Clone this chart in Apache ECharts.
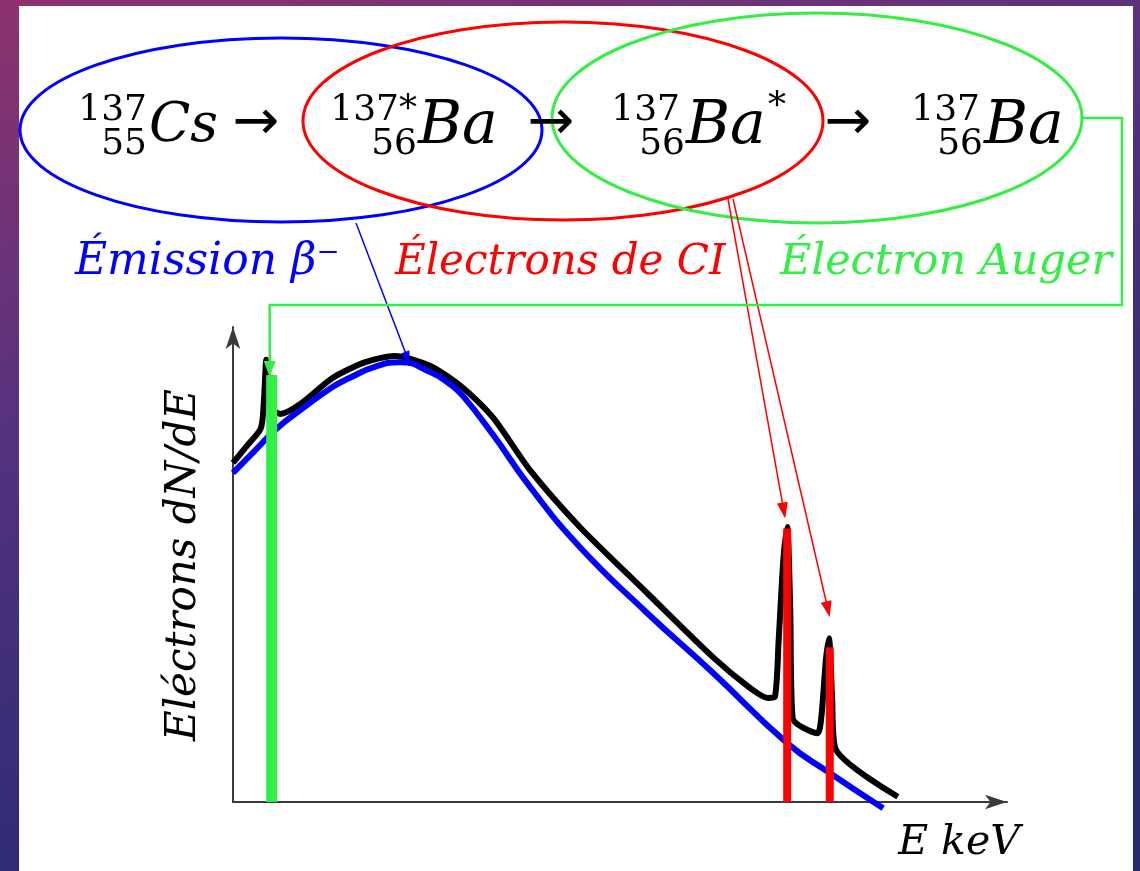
<!DOCTYPE html>
<html><head><meta charset="utf-8">
<script src="https://cdn.jsdelivr.net/npm/echarts@6/dist/echarts.min.js"></script>
<style>html,body{margin:0;padding:0;background:#fff;} #c{width:1140px;height:871px;}</style>
</head><body><div id="c"></div>
<script>
// ---- Data (arbitrary energy units 0..100, intensity units 0..100) ----
const betaE = [0, 2.8, 5.7, 8.7, 12.9, 15.1, 18.3, 21.6, 25.5, 28.0, 29.7, 33.6, 38.4, 44.8, 53.5, 62.0, 71.6, 77.1, 84.0];
const betaN = [69.3, 73.9, 78.7, 82.5, 87.4, 89.3, 91.6, 92.6, 90.5, 88.0, 85.5, 77.3, 66.3, 53.7, 39.8, 27.2, 12.4, 6.1, -1.3];

const totalE = [0, 1.9, 3.6, 4.0, 4.3, 4.6, 5.1, 6.1, 8.7, 12.9, 17.1, 20.9, 25.5, 29.7, 33.6, 38.4, 44.8, 53.5, 62.0, 66.8, 69.1, 70.0, 70.5, 71.1, 71.6, 72.0, 72.3, 75.5, 76.0, 76.6, 77.0, 77.4, 77.8, 85.9];
const totalN = [71.4, 75.2, 78.7, 84.6, 93.1, 86.0, 82.6, 81.7, 83.8, 89.3, 92.6, 93.9, 91.8, 87.2, 80.9, 69.8, 57.9, 44.0, 30.5, 24.0, 21.9, 22.1, 34.1, 50.9, 57.9, 40.0, 17.7, 14.5, 17.7, 29.9, 34.5, 22.0, 11.4, 1.1];

const augerE = 5.0,  augerN = 89.9;
const ciE = [71.6, 77.1];
const ciN = [57.6, 32.6];

const xLabel = 'E keV';
const yLabel = 'Eléctrons dN/dE';

const zip = (a, b) => a.map((v, i) => [v, b[i]]);

const chart = echarts.init(document.getElementById('c'), null, {renderer: 'canvas'});

const serif = '"DejaVu Serif", "Liberation Serif", serif';

function txt(text, x, y, size, color, opts) {
  opts = opts || {};
  return {
    type: 'text', x: x, y: y, rotation: opts.rotation || 0, z: 50,
    style: {
      text: text, fill: color || '#000',
      font: (opts.italic === false ? '' : 'italic ') + size + 'px ' + (opts.family || serif),
      align: opts.align || 'left', verticalAlign: 'middle'
    }
  };
}

function arrow(from, tip, color, width, len, w) {
  const dx = tip[0] - from[0], dy = tip[1] - from[1];
  const L = Math.hypot(dx, dy), ux = dx / L, uy = dy / L;
  const bx = tip[0] - ux * len, by = tip[1] - uy * len;
  return [
    {type: 'line', z: 40, shape: {x1: from[0], y1: from[1], x2: bx + ux * 2, y2: by + uy * 2},
      style: {stroke: color, lineWidth: width}},
    {type: 'polygon', z: 40, shape: {points: [tip, [bx - uy * w / 2, by + ux * w / 2], [bx + uy * w / 2, by - ux * w / 2]]},
      style: {fill: color}}
  ];
}

const option = {
  animation: false,
  grid: {left: 233, right: 133, top: 327, bottom: 69},
  xAxis: {
    type: 'value', min: 0, max: 100,
    axisLine: {show: true, symbol: ['none', 'arrow'], symbolSize: [11, 22], lineStyle: {color: '#3a3a3a', width: 2}},
    axisTick: {show: false}, axisLabel: {show: false}, splitLine: {show: false}
  },
  yAxis: {
    type: 'value', min: 0, max: 100,
    axisLine: {show: true, onZero: false, symbol: ['none', 'arrow'], symbolSize: [11, 22], lineStyle: {color: '#3a3a3a', width: 2}},
    axisTick: {show: false}, axisLabel: {show: false}, splitLine: {show: false}
  },
  series: [
    {type: 'line', name: 'total', data: zip(totalE, totalN), smooth: 0.25, showSymbol: false, symbol: 'none', clip: false, z: 3,
      lineStyle: {color: '#000', width: 6, join: 'round'}},
    {type: 'line', name: 'beta', data: zip(betaE, betaN), smooth: 0.5, showSymbol: false, symbol: 'none', clip: false, z: 4,
      lineStyle: {color: '#0000ff', width: 6}},
    {type: 'line', name: 'auger', data: [[augerE, 0], [augerE, augerN]], showSymbol: false, symbol: 'none', z: 5,
      lineStyle: {color: '#33ee44', width: 11, cap: 'butt'}},
    {type: 'line', name: 'ci1', data: [[ciE[0], 0], [ciE[0], ciN[0]]], showSymbol: false, symbol: 'none', z: 5,
      lineStyle: {color: '#ff0000', width: 8, cap: 'butt'}},
    {type: 'line', name: 'ci2', data: [[ciE[1], 0], [ciE[1], ciN[1]]], showSymbol: false, symbol: 'none', z: 5,
      lineStyle: {color: '#ff0000', width: 8, cap: 'butt'}}
  ]
};
chart.setOption(option);

const P = (x, y) => chart.convertToPixel({gridIndex: 0}, [x, y]);

const g = [];
// background
g.push({type: 'rect', z: -20, shape: {x: 0, y: 0, width: 1140, height: 871},
  style: {fill: new echarts.graphic.LinearGradient(0, 0, 0.25, 1, [
    {offset: 0, color: '#8d336e'}, {offset: 0.45, color: '#55327e'}, {offset: 1, color: '#272a73'}])}});
g.push({type: 'rect', z: -19, shape: {x: 19, y: 6, width: 1114, height: 865}, style: {fill: '#ffffff'}});

// ellipses
g.push({type: 'ellipse', z: 30, shape: {cx: 281, cy: 130, rx: 261, ry: 92}, style: {fill: null, stroke: '#0000ff', lineWidth: 3}});
g.push({type: 'ellipse', z: 30, shape: {cx: 563, cy: 121, rx: 260, ry: 99}, style: {fill: null, stroke: '#ff0000', lineWidth: 3}});
g.push({type: 'ellipse', z: 30, shape: {cx: 817, cy: 118, rx: 265, ry: 105}, style: {fill: null, stroke: '#33ee44', lineWidth: 3}});

// formula: 137/55 Cs -> 137*/56 Ba -> 137/56 Ba* -> 137/56 Ba
const supY = 111, subY = 145, mainY = 127, S = 36, A = 56;
const sans = '"DejaVu Sans", sans-serif';
g.push(txt('137', 147, supY, S, '#000', {italic: false, align: 'right'}));
g.push(txt('55', 147, subY, S, '#000', {italic: false, align: 'right'}));
g.push(txt('Cs', 149, mainY, 54, '#000'));
g.push(txt('→', 256, mainY - 3, A, '#000', {italic: false, align: 'center', family: sans}));

g.push(txt('137*', 417, supY, S, '#000', {italic: false, align: 'right'}));
g.push(txt('56', 417, subY, S, '#000', {italic: false, align: 'right'}));
g.push(txt('Ba', 418, mainY, 60, '#000'));
g.push(txt('→', 551, mainY - 3, A, '#000', {italic: false, align: 'center', family: sans}));

g.push(txt('137', 680, supY, S, '#000', {italic: false, align: 'right'}));
g.push(txt('56', 685, subY, S, '#000', {italic: false, align: 'right'}));
g.push(txt('Ba', 686, mainY, 60, '#000'));
g.push(txt('*', 768, 108, 36, '#000', {italic: false}));
g.push(txt('→', 848, mainY - 3, A, '#000', {italic: false, align: 'center', family: sans}));

g.push(txt('137', 980, supY, S, '#000', {italic: false, align: 'right'}));
g.push(txt('56', 983, subY, S, '#000', {italic: false, align: 'right'}));
g.push(txt('Ba', 984, mainY, 60, '#000'));

// labels
g.push(txt('Émission β⁻', 75, 263, 44, '#0000ff'));
g.push(txt('Électrons de CI', 395, 263, 42, '#ff0000'));
g.push(txt('Électron Auger', 780, 263, 43, '#33ee44'));

// axis titles
g.push(txt(yLabel, 184, 565, 42, '#000', {align: 'center', rotation: Math.PI / 2}));
g.push(txt(xLabel, 959, 843, 41, '#000', {align: 'center'}));

// annotation arrows
const peakIdx = betaN.indexOf(Math.max.apply(null, betaN));
const bt = P(betaE[peakIdx] + 1.2, betaN[peakIdx]);
arrow([356, 223], [bt[0], bt[1] + 1], '#0000ff', 1.5, 12, 9).forEach(e => g.push(e));

const r1 = P(ciE[0], ciN[0]);
const r2 = P(ciE[1], ciN[1]);
arrow([728, 199], [r1[0] - 2, r1[1] - 10], '#ff0000', 1.5, 16, 11).forEach(e => g.push(e));
arrow([733, 199], [r2[0], r2[1] - 30], '#ff0000', 1.5, 16, 11).forEach(e => g.push(e));

const gt = P(augerE, augerN);
g.push({type: 'polyline', z: 40, shape: {points: [[1083, 118], [1122, 118], [1122, 305], [gt[0] - 2, 305], [gt[0] - 2, gt[1] - 12]]},
  style: {fill: null, stroke: '#33ee44', lineWidth: 2.5}});
g.push({type: 'polygon', z: 40, shape: {points: [[gt[0] - 2, gt[1] + 2], [gt[0] - 8, gt[1] - 14], [gt[0] + 4, gt[1] - 14]]}, style: {fill: '#33ee44'}});

chart.setOption({graphic: {elements: g}});
</script></body></html>
